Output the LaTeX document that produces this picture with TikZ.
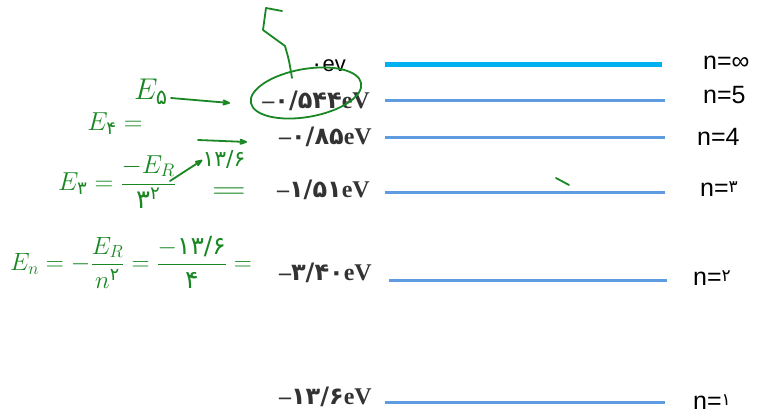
\RequirePackage{fix-cm}
\documentclass[tikz,border=0pt]{standalone}
\usepackage{amsmath}
\usepackage{fontspec}
\setmainfont{Liberation Serif}
\newfontfamily\arial{Liberation Sans}
\newfontfamily\fadig{DejaVu Sans}
\usepackage{xcolor}
\usetikzlibrary{arrows.meta, positioning}
\definecolor{skyline}{RGB}{0,176,240}
\definecolor{levelblue}{RGB}{95,155,225}
\definecolor{pen}{RGB}{25,135,35}
\newcommand{\fa}[1]{\text{\fadig #1}}
\newcommand{\sz}[1]{\fontsize{#1}{#1}\selectfont}

\begin{document}
\begin{tikzpicture}[x=1pt,y=-1pt,>={Stealth[round]},
    level/.style={draw=levelblue, line width=3pt},
    top level/.style={draw=skyline, line width=5pt},
    energy/.style={font=\bfseries\sz{24}, text=black!80, inner sep=0pt, anchor=east},
    quantum/.style={font=\arial\sz{25}, inner sep=0pt, anchor=west},
    hand/.style={text=pen, font=\sz{26}, inner sep=0pt},
    ink/.style={draw=pen, line width=1.8pt, line cap=round, line join=round}]
  \useasboundingbox (0,0) rectangle (763,417);

  % energy levels
  \coordinate (inf a) at (385,65);  \coordinate (inf b) at (662,65);
  \coordinate (l5 a) at (385,101);  \coordinate (l5 b) at (665,101);
  \coordinate (l4 a) at (385,138);  \coordinate (l4 b) at (665,138);
  \coordinate (l3 a) at (385,192);  \coordinate (l3 b) at (665,192);
  \coordinate (l2 a) at (389,280);  \coordinate (l2 b) at (667,280);
  \coordinate (l1 a) at (385,402);  \coordinate (l1 b) at (665,402);
  \draw[top level] (inf a) -- (inf b);
  \draw[level] (l5 a) -- (l5 b);
  \draw[level] (l4 a) -- (l4 b);
  \draw[level] (l3 a) -- (l3 b);
  \draw[level] (l2 a) -- (l2 b);
  \draw[level] (l1 a) -- (l1 b);

  % energies
  \node[font=\arial\sz{22}, inner sep=0pt, anchor=east] (einf) at (346,66) {{\fadig ۰}ev};
  \node[energy] (e5) at (370,101) {–{\fadig ۰/۵۴۴}eV};
  \node[energy] (e4) at (372,137) {–{\fadig ۰/۸۵}eV};
  \node[energy] (e3) at (370,190) {–{\fadig ۱/۵۱}eV};
  \node[energy] (e2) at (372,273) {–{\fadig ۳/۴۰}eV};
  \node[energy] (e1) at (372,397) {–{\fadig ۱۳/۶}eV};

  % quantum numbers
  \node[quantum] (ninf) at (703,63) {n=∞};
  \node[quantum] (n5) at (703,95) {n=5};
  \node[quantum] (n4) at (697,137) {n=4};
  \node[quantum] (n3) at (700,189) {n=\raisebox{4pt}{\fadig\sz{17}۳}};
  \node[quantum] (n2) at (693,278) {n=\raisebox{4pt}{\fadig\sz{17}۲}};
  \node[quantum] (n1) at (693,402) {n=\raisebox{4pt}{\fadig\sz{17}۱}};

  % hand notes
  \draw[ink, rotate around={10:(306,93)}] (306,93) ellipse [x radius=56, y radius=24];
  \draw[ink] (292,78) .. controls (289,60) .. (285,46) -- (263,30) -- (266,8) -- (282,11);
  \node[hand, font=\sz{30}] (h5) at (151,92) {$E_{\fa{۵}}$};
  \coordinate (tip5) at (230,103);
  \draw[ink,->] (h5.east) ++(3,6) -- (tip5);
  \node[hand] (h4) at (115,124) {$E_{\fa{۴}} =$};
  \coordinate (tail4) at (198,140);
  \coordinate (tip4) at (247,142);
  \draw[ink,->] (tail4) -- (tip4);
  \node[hand, anchor=west] (h3) at (58,182) {$E_{\fa{۳}} = \dfrac{-E_R}{\fa{۳}^{\fa{۲}}}$};
  \node[hand, font=\sz{22}] (r136) at (224,160) {$\fa{۱۳/۶}$};
  \coordinate (tail3) at (170,181);
  \draw[ink,->] (tail3) -- (r136.west);
  \node[hand, font=\sz{30}] (eq3) at (229,193) {\scalebox{1.6}[1]{$=$}};
  \node[hand, anchor=west, font=\sz{25}] (hn) at (10,262) {$E_n = -\dfrac{E_R}{n^{\fa{۲}}} = \dfrac{-\fa{۱۳/۶}}{\fa{۴}} =$};
  \draw[ink] (556,178) -- (569,185);
\end{tikzpicture}
\end{document}
